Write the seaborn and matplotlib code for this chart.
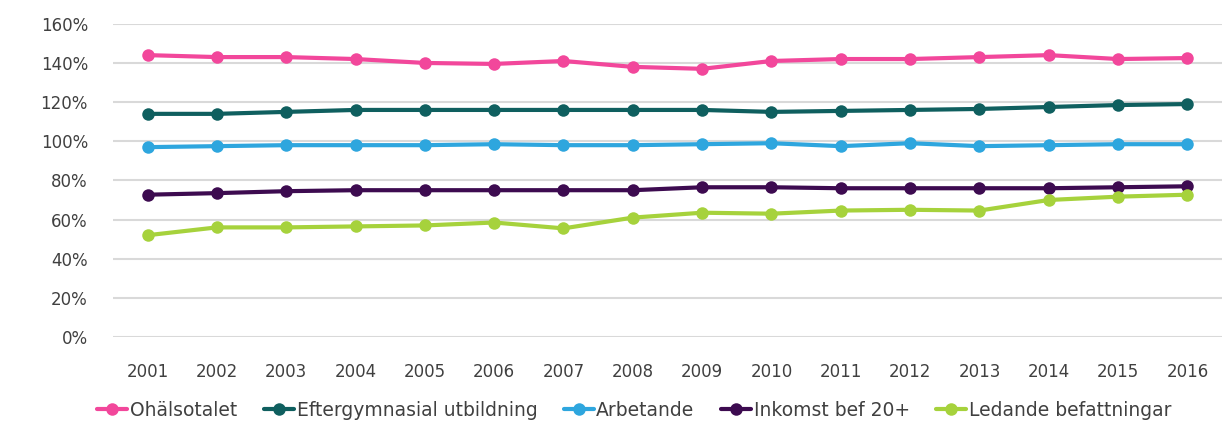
import matplotlib
matplotlib.use("Agg")
import matplotlib.pyplot as plt
import pandas as pd
import seaborn as sns

# data
years = [str(y) for y in range(2001, 2017)]
ohalsotalet = [144, 143, 143, 142, 140, 139.5, 141, 138, 137, 141, 142, 142, 143, 144, 142, 142.5]
eftergymnasial = [114, 114, 115, 116, 116, 116, 116, 116, 116, 115, 115.5, 116, 116.5, 117.5, 118.5, 119]
arbetande = [97, 97.5, 98, 98, 98, 98.5, 98, 98, 98.5, 99, 97.5, 99, 97.5, 98, 98.5, 98.5]
inkomst = [72.7, 73.5, 74.5, 75, 75, 75, 75, 75, 76.5, 76.5, 76, 76, 76, 76, 76.5, 77]
ledande = [52, 56, 56, 56.5, 57, 58.5, 55.5, 61, 63.5, 63, 64.6, 65, 64.6, 70, 71.7, 72.7]

names = ["Ohälsotalet", "Eftergymnasial utbildning", "Arbetande", "Inkomst bef 20+", "Ledande befattningar"]
colors = ["#f2479b", "#0f5f5f", "#2ea6de", "#3d0b50", "#a6d23c"]

rows = []
for name, vals in zip(names, [ohalsotalet, eftergymnasial, arbetande, inkomst, ledande]):
    for yr, v in zip(years, vals):
        rows.append((yr, v / 100, name))
df = pd.DataFrame(rows, columns=["year", "value", "serie"])

sns.set_style("white")
plt.rcParams['font.family'] = ['DejaVu Sans']

fig = plt.figure(figsize=(12.27, 4.25), dpi=100)
ax = fig.add_axes([0.092, 0.207, 0.904, 0.737])

sns.lineplot(data=df, x="year", y="value", hue="serie", hue_order=names,
             palette=colors, marker="o", markersize=9, markeredgewidth=0,
             linewidth=3, sort=False, ax=ax)

ax.set_ylim(0, 1.6)
ax.set_xlim(-0.5, 15.5)
ax.set_yticks([i * 0.2 for i in range(9)])
ax.set_yticklabels([f"{i * 20}%" for i in range(9)])
ax.yaxis.grid(True, color="#d9d9d9", linewidth=1.5)
ax.set_axisbelow(True)
for s in ax.spines.values():
    s.set_visible(False)
ax.tick_params(axis="both", length=0, labelsize=12, colors="#404040")
ax.tick_params(axis="y", pad=18)
ax.tick_params(axis="x", pad=19)
ax.set_xlabel("")
ax.set_ylabel("")

ax.legend(loc="center", bbox_to_anchor=(0.517, 0.035), bbox_transform=fig.transFigure,
          ncol=5, frameon=False, fontsize=13.5, handlelength=1.6, handletextpad=0.15,
          columnspacing=1.4, labelcolor="#404040", borderaxespad=0)

plt.savefig("out.png", dpi=100)
